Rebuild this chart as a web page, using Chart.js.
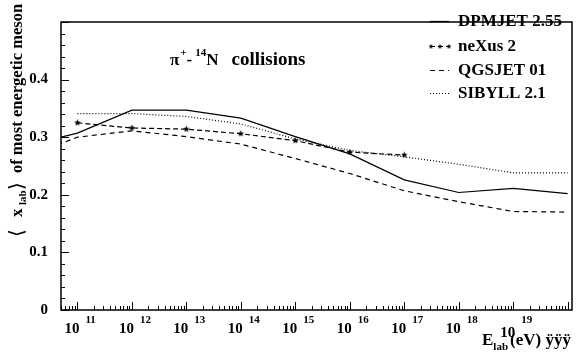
<!DOCTYPE html>
<html>
<head>
<meta charset="utf-8">
<script src="https://cdn.jsdelivr.net/npm/chart.js@4.4.1/dist/chart.umd.min.js"></script>
<style>
  html, body { margin: 0; padding: 0; background: #fff; }
</style>
</head>
<body>
<canvas id="c" width="577" height="353"></canvas>
<script>
// beam energies (eV); first point lies left of the visible range, line is clipped
const energies = [3e10, 1e11, 1e12, 1e13, 1e14, 1e15, 1e16, 1e17, 1e18, 1e19, 1e20];
const dpmjet = [0.295, 0.307, 0.347, 0.347, 0.333, 0.301, 0.271, 0.226, 0.204, 0.211, 0.202];
const nexus  = [null, 0.325, 0.316, 0.314, 0.306, 0.294, 0.274, 0.269, null, null, null];
const qgsjet = [0.281, 0.300, 0.311, 0.301, 0.288, 0.263, 0.237, 0.207, 0.188, 0.171, 0.170];
const sibyll = [null, 0.341, 0.341, 0.336, 0.323, 0.297, 0.277, 0.266, 0.253, 0.238, 0.238];
const seriesNames = ['DPMJET 2.55', 'neXus 2', 'QGSJET 01', 'SIBYLL 2.1'];
const decades = [11, 12, 13, 14, 15, 16, 17, 18, 19];

const SERIF = "'Liberation Serif', 'DejaVu Serif', serif";
const pts = arr => energies.map((e, i) => arr[i] == null ? null : { x: e, y: arr[i] }).filter(Boolean);

// small filled five-point star used as marker
function makeStar(r) {
  const c = document.createElement('canvas');
  const s = Math.ceil(r * 2 + 2);
  c.width = s; c.height = s;
  const g = c.getContext('2d');
  g.fillStyle = '#000';
  g.beginPath();
  for (let i = 0; i < 10; i++) {
    const rad = i % 2 ? r * 0.45 : r;
    const ang = -Math.PI / 2 + i * Math.PI / 5;
    g.lineTo(s / 2 + rad * Math.cos(ang), s / 2 + rad * Math.sin(ang));
  }
  g.closePath(); g.fill();
  return c;
}
const star = makeStar(3.5);
const starSmall = makeStar(2.6);

const styles = [
  { borderDash: [] },
  { borderDash: [5, 3], pointStyle: star, pointRadius: 3 },
  { borderDash: [5, 4] },
  { borderDash: [1, 2] },
];

// frame, inward ticks, superscript labels, legend and titles
const decor = {
  id: 'decor',
  afterDraw(chart) {
    const { ctx, chartArea: a, scales: { x, y } } = chart;
    ctx.save();
    ctx.strokeStyle = '#000'; ctx.fillStyle = '#000'; ctx.lineWidth = 1.5;
    ctx.strokeRect(a.left, a.top, a.right - a.left, a.bottom - a.top);

    ctx.lineWidth = 1;
    ctx.beginPath();
    for (let v = 0; v <= 0.5001; v += 0.02) {
      const py = Math.round(y.getPixelForValue(v)) + 0.5;
      const major = Math.abs(v * 10 - Math.round(v * 10)) < 1e-6;
      ctx.moveTo(a.left, py); ctx.lineTo(a.left + (major ? 8 : 4), py);
    }
    for (let n = 10; n <= 20; n++) {
      for (let k = 1; k <= 9; k++) {
        const e = k * Math.pow(10, n);
        if (e < x.min || e > x.max) continue;
        const px = Math.round(x.getPixelForValue(e)) + 0.5;
        ctx.moveTo(px, a.bottom); ctx.lineTo(px, a.bottom - (k === 1 ? 8 : 4));
      }
    }
    ctx.stroke();

    // x tick labels 10^n
    ctx.textBaseline = 'alphabetic'; ctx.textAlign = 'left';
    decades.forEach(n => {
      const px = x.getPixelForValue(Math.pow(10, n));
      ctx.font = 'bold 15px ' + SERIF;
      ctx.fillText('10', px - 13, n === 19 ? 337 : 333);
      ctx.font = 'bold 11px ' + SERIF;
      ctx.fillText(String(n), px + 8, 323);
    });

    // x axis title
    let cx = 482;
    ctx.font = 'bold 17px ' + SERIF; ctx.fillText('E', cx, 345); cx += ctx.measureText('E').width;
    ctx.font = 'bold 11px ' + SERIF; ctx.fillText('lab', cx, 350); cx += ctx.measureText('lab').width + 2;
    ctx.font = 'bold 17px ' + SERIF; ctx.fillText('(eV) ÿÿÿ', cx, 345);

    // y axis title, rotated
    ctx.save();
    ctx.translate(22, 238); ctx.rotate(-Math.PI / 2);
    ctx.font = '20px ' + SERIF; ctx.fillText('⟨', 1, 1);
    ctx.font = 'bold 17px ' + SERIF; ctx.fillText('x', 21, 0);
    ctx.font = 'bold 11px ' + SERIF; ctx.fillText('lab', 33, 4);
    ctx.font = '20px ' + SERIF; ctx.fillText('⟩', 48, 1);
    ctx.font = 'bold 16.5px ' + SERIF; ctx.fillText('of most energetic meson', 65, 0);
    ctx.restore();

    // reaction label
    let tx = 170;
    const piece = (t, size, dy, gap) => {
      ctx.font = 'bold ' + size + 'px ' + SERIF;
      ctx.fillText(t, tx, 65 + dy); tx += ctx.measureText(t).width + gap;
    };
    piece('π', 17, 0, 1); piece('+', 11, -9, 0); piece('-', 17, 0, 3);
    piece('14', 11, -9, 0); piece('N', 17, 0, 13); piece('collisions', 19, 0, 0);

    // legend
    const rows = [21, 46, 70, 93];
    chart.data.datasets.forEach((ds, i) => {
      const ly = rows[i] + 0.5;
      ctx.lineWidth = 1.2; ctx.setLineDash(ds.borderDash || []);
      ctx.beginPath(); ctx.moveTo(430, ly); ctx.lineTo(449, ly); ctx.stroke();
      ctx.setLineDash([]);
      if (ds.pointStyle === star) {
        [431, 440, 449].forEach(sx => ctx.drawImage(starSmall, sx - starSmall.width / 2, ly - starSmall.height / 2));
      }
      ctx.font = 'bold 17px ' + SERIF; ctx.textBaseline = 'middle';
      ctx.fillText(ds.label, 458, rows[i] + 1);
      ctx.textBaseline = 'alphabetic';
    });
    ctx.restore();
  },
};

new Chart(document.getElementById('c'), {
  type: 'line',
  data: {
    datasets: [dpmjet, nexus, qgsjet, sibyll].map((arr, i) => ({
      label: seriesNames[i],
      data: pts(arr),
      borderColor: '#000', backgroundColor: '#000',
      pointBorderColor: '#000', pointBorderWidth: 1,
      borderWidth: 1.2, tension: 0, pointRadius: 0,
      ...styles[i],
    })),
  },
  options: {
    responsive: false, devicePixelRatio: 1, animation: false,
    layout: { padding: { top: 4, right: 4, left: 0, bottom: 0 } },
    plugins: { legend: { display: false }, tooltip: { enabled: false } },
    scales: {
      x: {
        type: 'logarithmic', min: 5e10, max: 1.2e20,
        grid: { display: false, drawTicks: false }, border: { display: false },
        ticks: { display: false },
        afterFit: s => { s.height = 43; },
      },
      y: {
        min: 0, max: 0.5,
        grid: { display: false, drawTicks: false }, border: { display: false },
        ticks: {
          stepSize: 0.1, padding: 13, color: '#000',
          font: { family: SERIF, size: 15, weight: 'bold' },
          callback: v => v > 0.45 ? '' : (v === 0 ? '0' : v.toFixed(1)),
        },
        afterFit: s => { s.width = 61; },
      },
    },
  },
  plugins: [decor],
});
</script>
</body>
</html>
